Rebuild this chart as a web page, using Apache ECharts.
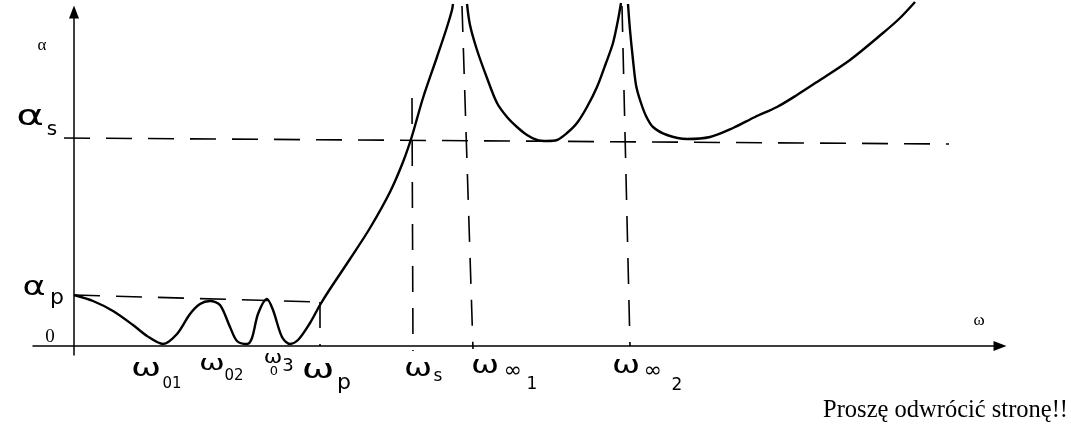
<!DOCTYPE html>
<html>
<head>
<meta charset="utf-8">
<script src="https://cdn.jsdelivr.net/npm/echarts@6/dist/echarts.min.js"></script>
<style>
html,body{margin:0;padding:0;background:#fff;}
#chart{width:1071px;height:426px;}
</style>
</head>
<body>
<div id="chart"></div>
<script>
// ---- data (x: ω in drawing units, y: α in drawing units) ----
const passband = [
  [0,51],[19,45],[39,35],[59,21],[73,10],[89,2],[103,12],[116,32],[126,42],[136,45],
  [146,41],[156,19],[163,5],[173,2],[178,8],[184,32],[193,47],[199,36],[208,9],[216,2],
  [224,6],[236,23],[246,41],[256,57],[276,87],[296,118],[316,154],[329,184],[338,210],
  [349,248],[363,289],[373,319],[378,336],[379,342]
];
const stopband1 = [
  [393,342],[396,321],[403,296],[413,268],[423,243],[433,229],[443,219],[453,211],
  [463,206],[473,205],[483,206],[493,213],[503,223],[513,239],[523,259],[532,283],
  [539,303],[544,326],[547,343]
];
const stopband2 = [
  [554,342],[556,316],[559,286],[562,261],[566,246],[572,230],[579,219],[593,211],
  [613,207],[636,209],[659,218],[681,229],[703,239],[723,251],[743,264],[776,286],
  [809,313],[826,328],[841,344]
];
const alphaPLine = [[0,51],[246,44]];
const alphaSLine = [[-10,208],[875,202]];
const omegaPLine = [[246,44],[246,0]];
const omegaSLine = [[338,248],[339,-5]];
const omegaInf1Line = [[388,340],[399,-3]];
const omegaInf2Line = [[548,340],[556,0]];

const yLabels = ['α', 'α', 's', 'α', 'p', '0'];
const xLabels = ['ω', '01', 'ω', '02', 'ω', '0', '3', 'ω', 'p', 'ω', 's', 'ω', '∞', '1', 'ω', '∞', '2'];
const axisName = 'ω';
const footer = 'Proszę odwrócić stronę!!';

// ---- chart ----
const chart = echarts.init(document.getElementById('chart'));
const curveStyle = {color:'#000', width:2.4};
const dashStyle = {color:'#000', width:1.6, type:[26,16]};

function curve(data){
  return {type:'line', data, smooth:0.3, showSymbol:false, symbol:'none',
          clip:false, lineStyle:curveStyle, silent:true, animation:false};
}
function dashed(data){
  return {type:'line', data, showSymbol:false, symbol:'none', clip:false,
          lineStyle:dashStyle, silent:true, animation:false};
}

const hand = 'DejaVu Sans';
const serif = 'Liberation Serif';
function txt(t, x, y, size, font, extra){
  return Object.assign({type:'text', x, y, silent:true,
    style:{text:t, fontSize:size, fontFamily:font, fill:'#000', align:'center', verticalAlign:'middle'}}, extra||{});
}

const g = [
  txt(yLabels[0], 42, 46, 17, serif),
  txt(yLabels[1], 30, 118, 28, hand, {scaleX:1.5}),
  txt(yLabels[2], 52, 130, 20, hand),
  txt(yLabels[3], 34, 288, 27, hand, {scaleX:1.3}),
  txt(yLabels[4], 57, 298, 22, hand),
  txt(yLabels[5], 50, 337, 19, serif),
  txt(xLabels[0], 146, 370, 24, hand, {scaleX:1.5}),
  txt(xLabels[1], 172, 384, 15, hand),
  txt(xLabels[2], 212, 364, 22, hand, {scaleX:1.4}),
  txt(xLabels[3], 234, 376, 15, hand),
  txt(xLabels[4], 273, 359, 17, hand, {scaleX:1.3}),
  txt(xLabels[5], 274, 372, 13, hand),
  txt(xLabels[6], 288, 366, 18, hand),
  txt(xLabels[7], 318, 371, 26, hand, {scaleX:1.5}),
  txt(xLabels[8], 344, 383, 22, hand),
  txt(xLabels[9], 418, 370, 24, hand, {scaleX:1.4}),
  txt(xLabels[10], 438, 377, 17, hand),
  txt(xLabels[11], 485, 367, 24, hand, {scaleX:1.4}),
  txt(xLabels[12], 513, 371, 22, hand),
  txt(xLabels[13], 532, 385, 17, hand),
  txt(xLabels[14], 626, 367, 24, hand, {scaleX:1.4}),
  txt(xLabels[15], 653, 371, 22, hand),
  txt(xLabels[16], 677, 386, 17, hand),
  txt(axisName, 979, 321, 17, serif),
  {type:'text', x:1068, y:411, silent:true,
   style:{text:footer, fontSize:24.5, fontFamily:serif, fill:'#000', align:'right', verticalAlign:'middle'}}
];

chart.setOption({
  animation:false,
  backgroundColor:'#fff',
  grid:{left:33, right:71, top:12, bottom:71},
  xAxis:{type:'value', min:-41, max:926,
    axisLine:{show:true, onZero:true, symbol:['none','triangle'], symbolSize:[10,13],
              lineStyle:{color:'#000', width:1.5}},
    axisTick:{show:false}, axisLabel:{show:false}, splitLine:{show:false}},
  yAxis:{type:'value', min:-9, max:334,
    axisLine:{show:true, onZero:true, symbol:['none','triangle'], symbolSize:[10,13],
              lineStyle:{color:'#000', width:1.5}},
    axisTick:{show:false}, axisLabel:{show:false}, splitLine:{show:false}},
  series:[
    dashed(alphaPLine), dashed(alphaSLine), dashed(omegaPLine), dashed(omegaSLine),
    dashed(omegaInf1Line), dashed(omegaInf2Line),
    curve(passband), curve(stopband1), curve(stopband2)
  ],
  graphic:g
});
</script>
</body>
</html>
